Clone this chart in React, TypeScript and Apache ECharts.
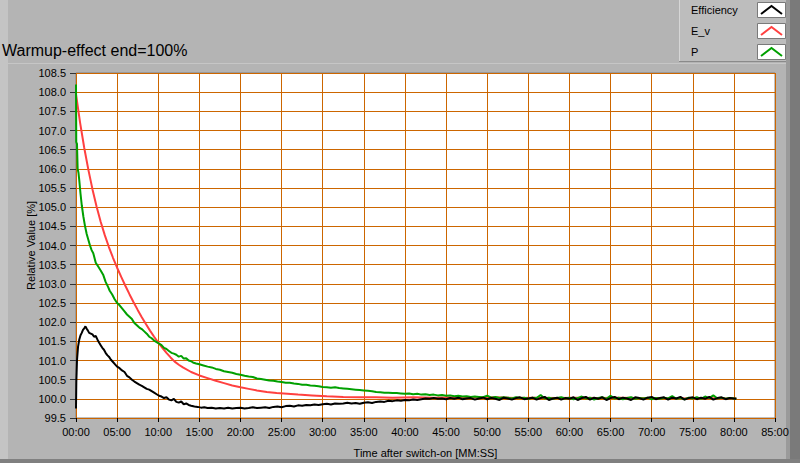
import React, { useEffect, useRef } from "react";
import * as echarts from "echarts";

const titleText = "Warmup-effect end=100%";
const xAxisName = "Time after switch-on [MM:SS]";
const yAxisName = "Relative Value [%]";
const seriesNames = ["Efficiency", "E_v", "P"];
const seriesColors = ["#000000", "#ff4040", "#00a000"];

const efficiencyData: number[][] = [
  [0, 99.75], [0.04, 100.45], [0.12, 101.0], [0.25, 101.36], [0.4, 101.55], [0.55, 101.66], [0.7, 101.72], [0.85, 101.8],
  [1.0, 101.84], [1.15, 101.89], [1.3, 101.83], [1.45, 101.78], [1.6, 101.72], [1.8, 101.7], [2.0, 101.68], [2.2, 101.62],
  [2.4, 101.64], [2.6, 101.55], [2.8, 101.47], [3.0, 101.4], [3.2, 101.33], [3.4, 101.28], [3.6, 101.2], [3.8, 101.14],
  [4.0, 101.1], [4.25, 101.02], [4.5, 100.96], [4.75, 100.9], [5.0, 100.84], [5.3, 100.8], [5.6, 100.74], [5.9, 100.7],
  [6.2, 100.6], [6.5, 100.56], [6.8, 100.5], [7.1, 100.45], [7.4, 100.41], [7.7, 100.37], [8.0, 100.34], [8.3, 100.3],
  [8.6, 100.26], [8.9, 100.24], [9.2, 100.2], [9.5, 100.16], [9.8, 100.12], [10.1, 100.08], [10.4, 100.06], [10.7, 100.02],
  [11.0, 100.04], [11.3, 99.98], [11.6, 99.96], [11.9, 100.0], [12.2, 99.92], [12.5, 99.9], [12.8, 99.93], [13.1, 99.86],
  [13.4, 99.88], [13.7, 99.84], [14.0, 99.82], [14.4, 99.8], [14.8, 99.79], [15.2, 99.77], [15.6, 99.78], [16.0, 99.76],
  [16.5, 99.77], [17, 99.75], [17.5, 99.76], [18, 99.75], [18.5, 99.77], [19, 99.75], [19.5, 99.76], [20, 99.77],
  [20.5, 99.75], [21, 99.76], [21.5, 99.78], [22, 99.76], [22.5, 99.77], [23, 99.78], [23.5, 99.76], [24, 99.79],
  [24.5, 99.8], [25, 99.78], [25.5, 99.81], [26, 99.82], [26.5, 99.8], [27, 99.83], [27.5, 99.82], [28, 99.84],
  [28.5, 99.83], [29, 99.85], [29.5, 99.84], [30, 99.86], [30.5, 99.87], [31, 99.85], [31.5, 99.88], [32, 99.87],
  [32.5, 99.88], [33, 99.9], [33.5, 99.88], [34, 99.89], [34.5, 99.87], [35, 99.9], [35.5, 99.91], [36, 99.89],
  [36.5, 99.92], [37, 99.93], [37.5, 99.92], [38, 99.95], [38.5, 99.94], [39, 99.96], [39.5, 99.95], [40, 99.97],
  [40.5, 99.96], [41, 99.98], [41.5, 99.97], [42, 99.99], [42.5, 100.01], [43, 100.0], [43.5, 100.02], [44, 100.0],
  [44.5, 100.01], [45, 99.99], [45.5, 100.02], [46, 100.0], [46.5, 100.03], [47, 99.99], [47.5, 100.01], [48, 100.02],
  [48.5, 99.98], [49, 100.01], [49.5, 100.03], [50, 99.99], [50.5, 100.02], [51, 100.0], [51.5, 99.97], [52, 100.03],
  [52.5, 100.01], [53, 99.98], [53.5, 100.02], [54, 100.04], [54.5, 99.99], [55, 100.01], [55.5, 100.03], [56, 99.98],
  [56.5, 100.02], [57, 100.05], [57.5, 99.97], [58, 100.01], [58.5, 100.03], [59, 99.98], [59.5, 100.02], [60, 100.0],
  [60.5, 100.04], [61, 99.97], [61.5, 100.02], [62, 100.05], [62.5, 99.98], [63, 100.03], [63.5, 100.0], [64, 100.04],
  [64.5, 99.97], [65, 100.02], [65.5, 100.05], [66, 99.99], [66.5, 100.03], [67, 100.01], [67.5, 99.97], [68, 100.04],
  [68.5, 100.02], [69, 99.98], [69.5, 100.03], [70, 100.05], [70.5, 99.99], [71, 100.02], [71.5, 100.04], [72, 99.98],
  [72.5, 100.03], [73, 100.01], [73.5, 100.05], [74, 99.98], [74.5, 100.02], [75, 100.04], [75.5, 99.99], [76, 100.03],
  [76.5, 100.0], [77, 100.05], [77.5, 99.98], [78, 100.02], [78.5, 100.04], [79, 99.99], [79.5, 100.02], [80, 100.01],
  [80.3, 100.0],
];

const evData: number[][] = [
  [0, 107.95], [0.5, 107.2], [1.0, 106.55], [1.5, 105.98], [2.0, 105.47], [2.5, 105.02], [3.0, 104.62], [3.5, 104.27],
  [4.0, 103.96], [4.5, 103.68], [5.0, 103.42], [5.5, 103.18], [6.0, 102.95], [6.5, 102.73], [7.0, 102.52], [7.5, 102.32],
  [8.0, 102.13], [8.5, 101.95], [9.0, 101.78], [9.5, 101.62], [10.0, 101.47], [10.5, 101.33], [11.0, 101.2], [11.5, 101.08],
  [12.0, 100.97], [12.5, 100.89], [13.0, 100.82], [14.0, 100.7], [15.0, 100.61], [16.0, 100.54], [17.0, 100.47], [18.0, 100.41],
  [19.0, 100.35], [20.0, 100.3], [21.0, 100.26], [22, 100.22], [23.2, 100.18], [24.4, 100.15], [25.7, 100.13], [27, 100.11],
  [28.7, 100.09], [30.5, 100.07], [32.5, 100.05], [34.5, 100.04], [36.5, 100.04], [38.5, 100.03], [41, 100.04], [43.5, 100.03],
  [46, 100.04], [48.5, 100.03], [51, 100.04], [53.5, 100.02], [56, 100.03], [58.5, 100.02], [61, 100.03], [63.5, 100.02],
  [66, 100.03], [68.5, 100.02], [71, 100.02], [73.5, 100.01], [76, 100.02], [78.5, 100.01], [80.3, 100.01],
];

const pData: number[][] = [
  [0, 108.2], [0.03, 106.7], [0.12, 106.65], [0.2, 106.0], [0.3, 105.9], [0.4, 105.7], [0.55, 105.35], [0.7, 105.05],
  [0.9, 104.75], [1.1, 104.5], [1.3, 104.3], [1.5, 104.15], [1.7, 104.0], [1.9, 103.88], [2.1, 103.8], [2.4, 103.55],
  [2.7, 103.45], [3.0, 103.35], [3.3, 103.24], [3.6, 103.05], [3.9, 102.92], [4.1, 102.82], [4.4, 102.72], [4.7, 102.6],
  [5.0, 102.5], [5.3, 102.44], [5.6, 102.36], [5.9, 102.28], [6.2, 102.2], [6.5, 102.14], [6.8, 102.08], [7.1, 101.98],
  [7.4, 101.92], [7.7, 101.86], [8.0, 101.82], [8.3, 101.76], [8.6, 101.7], [8.9, 101.62], [9.2, 101.58], [9.5, 101.52],
  [9.8, 101.48], [10.1, 101.44], [10.4, 101.4], [10.7, 101.33], [11.0, 101.3], [11.3, 101.25], [11.6, 101.2], [11.9, 101.18],
  [12.2, 101.15], [12.5, 101.1], [12.8, 101.12], [13.1, 101.05], [13.4, 101.06], [13.7, 101.0], [14.0, 100.98], [14.3, 100.94],
  [14.6, 100.92], [15.0, 100.9], [15.5, 100.87], [16.0, 100.84], [16.5, 100.82], [17.0, 100.78], [17.5, 100.76], [18, 100.72],
  [18.5, 100.7], [19, 100.68], [19.5, 100.65], [20, 100.63], [20.5, 100.6], [21, 100.58], [21.5, 100.57], [22, 100.53],
  [22.5, 100.52], [23, 100.5], [23.5, 100.48], [24, 100.47], [24.5, 100.45], [25, 100.44], [25.5, 100.42], [26, 100.42],
  [26.5, 100.4], [27, 100.39], [27.5, 100.37], [28, 100.37], [28.5, 100.35], [29, 100.34], [29.5, 100.33], [30, 100.31],
  [30.5, 100.3], [31, 100.29], [31.5, 100.3], [32, 100.28], [32.5, 100.27], [33, 100.26], [33.5, 100.25], [34, 100.24],
  [34.5, 100.23], [35, 100.22], [35.5, 100.21], [36, 100.2], [36.5, 100.18], [37, 100.17], [37.5, 100.16], [38, 100.16],
  [38.5, 100.15], [39, 100.15], [39.5, 100.14], [40, 100.13], [40.5, 100.14], [41, 100.12], [41.5, 100.13], [42, 100.11],
  [42.5, 100.12], [43, 100.1], [43.5, 100.11], [44, 100.09], [44.5, 100.1], [45, 100.08], [45.5, 100.09], [46, 100.07],
  [46.5, 100.08], [47, 100.06], [47.5, 100.07], [48, 100.05], [48.5, 100.06], [49, 100.05], [49.5, 100.04], [50, 100.08],
  [50.5, 100.03], [51, 100.05], [51.5, 100.02], [52, 100.04], [52.5, 100.03], [53, 100.01], [53.5, 100.04], [54, 100.02],
  [54.5, 100.03], [55, 100.0], [55.5, 100.03], [56, 100.02], [56.5, 100.1], [57, 100.01], [57.5, 100.03], [58, 100.0],
  [58.5, 100.02], [59, 100.04], [59.5, 100.01], [60, 100.03], [60.5, 99.99], [61, 100.02], [61.5, 100.06], [62, 100.01],
  [62.5, 100.03], [63, 99.98], [63.5, 100.02], [64, 100.04], [64.5, 100.0], [65, 100.08], [65.5, 100.01], [66, 100.03],
  [66.5, 99.99], [67, 100.02], [67.5, 100.04], [68, 100.0], [68.5, 100.02], [69, 100.01], [69.5, 100.03], [70, 99.99],
  [70.5, 100.02], [71, 100.0], [71.5, 100.03], [72, 100.01], [72.5, 100.07], [73, 100.0], [73.5, 100.02], [74, 99.99],
  [74.5, 100.03], [75, 100.01], [75.5, 100.04], [76, 100.0], [76.5, 100.06], [77, 100.02], [77.5, 100.09], [78, 100.01],
  [78.5, 100.03], [79, 100.0], [79.5, 100.02], [80, 100.01], [80.3, 100.0],
];

const FONT = "Liberation Sans";

export default function App() {
  const ref = useRef<HTMLDivElement>(null);
  useEffect(() => {
    if (!ref.current) return;
    const chart = echarts.init(ref.current, null, { renderer: "svg" });
    const legendRows = seriesNames.map((name, i) => {
      const top = 2 + i * 21;
      return [
        {
          type: "text",
          x: 691,
          y: top + 8,
          style: { text: name, fill: "#000", font: `11px '${FONT}'`, textVerticalAlign: "middle" },
        },
        {
          type: "rect",
          shape: { x: 757.5, y: top + 0.5, width: 28, height: 15 },
          style: { fill: "#ffffff", stroke: "#7a7a7a", lineWidth: 1 },
        },
        {
          type: "polyline",
          shape: { points: [[761, top + 12], [771.5, top + 4], [782, top + 12]] },
          style: { stroke: seriesColors[i], lineWidth: 2, fill: null },
        },
      ];
    }).flat();

    chart.setOption({
      animation: false,
      backgroundColor: "#b4b4b4",
      textStyle: { fontFamily: FONT },
      title: {
        text: titleText,
        left: 2,
        top: 42,
        padding: 0,
        textStyle: { fontSize: 16, fontWeight: "normal", color: "#000", fontFamily: FONT },
      },
      grid: {
        left: 76,
        top: 73,
        width: 699,
        height: 349,
        show: true,
        backgroundColor: "#ffffff",
        borderColor: "#808080",
        borderWidth: 1,
      },
      xAxis: {
        type: "value",
        min: 0,
        max: 85,
        interval: 5,
        name: xAxisName,
        nameLocation: "middle",
        nameGap: 29,
        nameTextStyle: { fontSize: 11, color: "#000", fontFamily: FONT },
        axisLine: { show: false },
        axisTick: { show: true, length: 4, lineStyle: { color: "#000" } },
        axisLabel: {
          fontSize: 11,
          color: "#000",
          margin: 8,
          fontFamily: FONT,
          formatter: (v: number) => String(Math.round(v)).padStart(2, "0") + ":00",
        },
        splitLine: { show: true, lineStyle: { color: "#cc6600", width: 1 } },
      },
      yAxis: {
        type: "value",
        min: 99.5,
        max: 108.5,
        interval: 0.5,
        name: yAxisName,
        nameLocation: "middle",
        nameGap: 40,
        nameMoveOverlap: false,
        nameTextStyle: { fontSize: 11, color: "#000", fontFamily: FONT },
        axisLine: { show: false },
        axisTick: { show: true, length: 6, lineStyle: { color: "#333" } },
        axisLabel: {
          fontSize: 11,
          color: "#000",
          margin: 10,
          fontFamily: FONT,
          formatter: (v: number) => v.toFixed(1),
        },
        splitLine: { show: true, lineStyle: { color: "#cc6600", width: 1 } },
      },
      series: [
        {
          name: seriesNames[1],
          type: "line",
          data: evData,
          showSymbol: false,
          lineStyle: { color: seriesColors[1], width: 2 },
          itemStyle: { color: seriesColors[1] },
          z: 2,
        },
        {
          name: seriesNames[2],
          type: "line",
          data: pData,
          showSymbol: false,
          lineStyle: { color: seriesColors[2], width: 2 },
          itemStyle: { color: seriesColors[2] },
          z: 3,
        },
        {
          name: seriesNames[0],
          type: "line",
          data: efficiencyData,
          showSymbol: false,
          lineStyle: { color: seriesColors[0], width: 2 },
          itemStyle: { color: seriesColors[0] },
          z: 4,
        },
      ],
      graphic: [
        { type: "rect", shape: { x: 0, y: 0, width: 8, height: 463 }, style: { fill: "#c4c4c4" }, z: -1 },
        { type: "line", shape: { x1: 8, y1: 63.5, x2: 786, y2: 63.5 }, style: { stroke: "#c6c6c6", lineWidth: 1 }, z: -1 },
        { type: "rect", shape: { x: 786, y: 0, width: 4, height: 463 }, style: { fill: "#9a9a9a" } },
        { type: "rect", shape: { x: 790, y: 0, width: 10, height: 463 }, style: { fill: "#7a7a7a" } },
        { type: "rect", shape: { x: 0, y: 459, width: 800, height: 4 }, style: { fill: "#808080" } },
        { type: "rect", shape: { x: 679, y: 0, width: 107, height: 62 }, style: { fill: "#bdbdbd" } },
        { type: "line", shape: { x1: 679.5, y1: 0, x2: 679.5, y2: 62 }, style: { stroke: "#d6d6d6", lineWidth: 1 } },
        { type: "line", shape: { x1: 679, y1: 61.5, x2: 786, y2: 61.5 }, style: { stroke: "#8a8a8a", lineWidth: 1 } },
        ...legendRows,
      ],
    });
    return () => chart.dispose();
  }, []);
  return (
    <div
      ref={ref}
      style={{ position: "fixed", left: 0, top: 0, width: 800, height: 463 }}
    />
  );
}
